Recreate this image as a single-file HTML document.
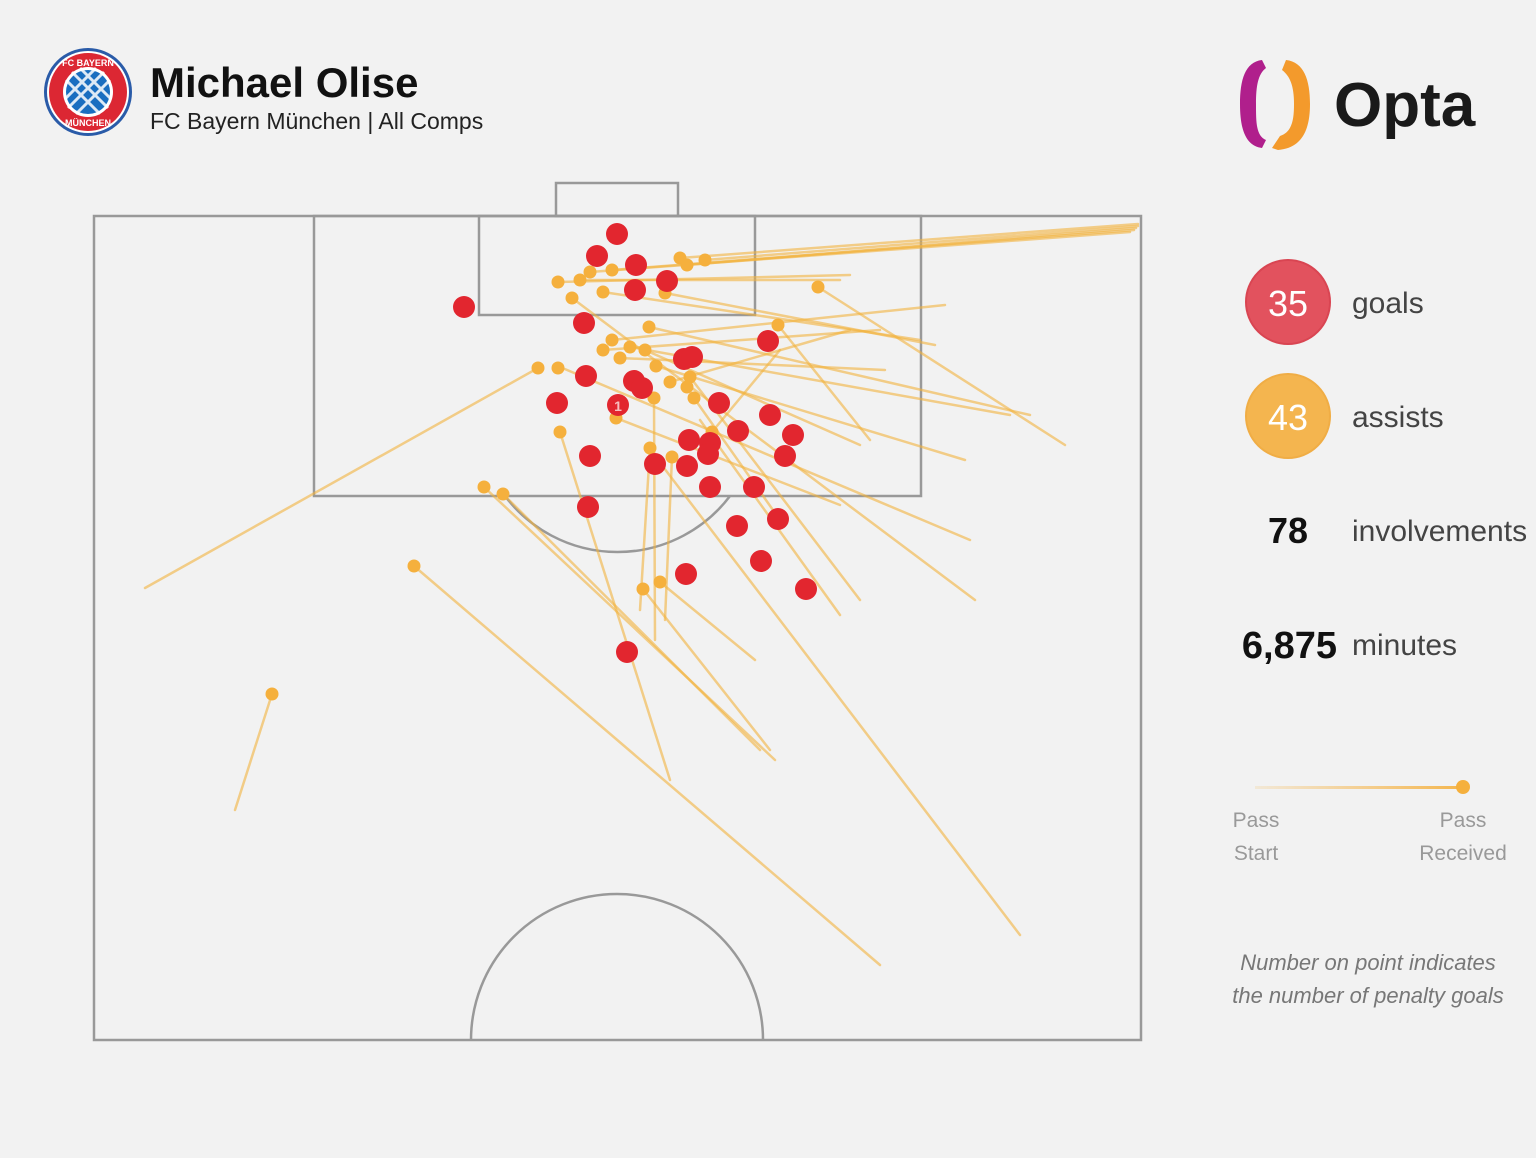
<!DOCTYPE html>
<html><head><meta charset="utf-8"><style>
html,body{margin:0;padding:0;background:#f2f2f2;width:1536px;height:1158px;overflow:hidden;font-family:"Liberation Sans",sans-serif}
</style></head><body>
<svg width="1536" height="1158" viewBox="0 0 1536 1158" xmlns="http://www.w3.org/2000/svg">
<rect width="1536" height="1158" fill="#f2f2f2"/>
<!-- Bayern logo -->
<circle cx="88" cy="92" r="44" fill="#2a5ba8"/>
<circle cx="88" cy="92" r="41" fill="#fff"/>
<circle cx="88" cy="92" r="39" fill="#dc2733"/>
<circle cx="88" cy="92" r="25" fill="#fff"/>
<circle cx="88" cy="92" r="22" fill="#1a6ec0"/>
<g stroke="#fff" stroke-width="3" opacity=".85">
<line x1="66" y1="80" x2="100" y2="114"/><line x1="72" y1="72" x2="108" y2="108"/><line x1="80" y1="68" x2="110" y2="98"/>
<line x1="110" y1="80" x2="76" y2="114"/><line x1="104" y1="72" x2="68" y2="108"/><line x1="96" y1="68" x2="66" y2="98"/>
</g>
<text x="88" y="66" font-size="9" font-weight="bold" fill="#fff" text-anchor="middle">FC BAYERN</text>
<text x="88" y="126" font-size="9" font-weight="bold" fill="#fff" text-anchor="middle">MÜNCHEN</text>
<text x="150" y="97" font-size="42" font-weight="bold" fill="#111">Michael Olise</text>
<text x="150" y="129" font-size="23" fill="#222">FC Bayern München | All Comps</text>
<!-- Opta -->
<path d="M1262 60 C1245 62 1240 80 1240 104 C1240 130 1246 146 1262 148 L1266 140 C1256 136 1256 122 1256 104 C1256 86 1258 74 1266 68 Z" fill="#b01f8c"/>
<path d="M1286 60 C1304 62 1310 80 1310 104 C1310 130 1302 148 1278 150 L1272 148 L1280 136 C1292 132 1294 120 1294 104 C1294 86 1290 76 1282 70 Z" fill="#f39a2c"/>
<text x="1334" y="126" font-size="62" font-weight="bold" fill="#1a1a1a">Opta</text>
<!-- pitch -->
<g fill="none" stroke="#999" stroke-width="2.5">
<rect x="94" y="216" width="1047" height="824"/>
<rect x="314" y="216" width="607" height="280"/>
<rect x="479" y="216" width="276" height="99"/>
<rect x="556" y="183" width="122" height="33"/>
<path d="M505 496 A141 141 0 0 0 730 496"/>
<path d="M471 1040 A146 146 0 0 1 763 1040"/>
</g>
<!-- passes -->
<g stroke="#f2b23e" stroke-width="2.5" stroke-opacity=".6" stroke-linecap="round">
<line x1="1138" y1="224" x2="680" y2="258"/><line x1="1138" y1="226" x2="705" y2="260"/>
<line x1="1136" y1="228" x2="687" y2="265"/><line x1="1134" y1="230" x2="612" y2="270"/>
<line x1="1130" y1="232" x2="590" y2="272"/>
<line x1="850" y1="275" x2="558" y2="282"/><line x1="840" y1="280" x2="580" y2="280"/>
<line x1="1065" y1="445" x2="818" y2="287"/>
<line x1="145" y1="588" x2="538" y2="368"/>
<line x1="235" y1="810" x2="272" y2="694"/>
<line x1="880" y1="965" x2="414" y2="566"/>
<line x1="1020" y1="935" x2="664" y2="468"/>
<line x1="775" y1="760" x2="484" y2="487"/>
<line x1="760" y1="750" x2="503" y2="494"/>
<line x1="670" y1="780" x2="560" y2="432"/>
<line x1="755" y1="660" x2="660" y2="582"/>
<line x1="770" y1="750" x2="643" y2="589"/>
<line x1="970" y1="540" x2="560" y2="367"/>
<line x1="975" y1="600" x2="572" y2="298"/>
<line x1="1030" y1="415" x2="649" y2="327"/>
<line x1="945" y1="305" x2="612" y2="340"/>
<line x1="870" y1="440" x2="778" y2="325"/>
<line x1="885" y1="370" x2="620" y2="358"/>
<line x1="860" y1="600" x2="690" y2="377"/>
<line x1="840" y1="615" x2="700" y2="420"/>
<line x1="965" y1="460" x2="656" y2="366"/>
<line x1="920" y1="340" x2="603" y2="292"/>
<line x1="935" y1="345" x2="665" y2="293"/>
<line x1="880" y1="330" x2="603" y2="350"/>
<line x1="1010" y1="415" x2="630" y2="347"/>
<line x1="840" y1="505" x2="616" y2="418"/>
<line x1="860" y1="445" x2="645" y2="350"/>
<line x1="780" y1="520" x2="694" y2="398"/>
<line x1="850" y1="330" x2="670" y2="382"/>
<line x1="655" y1="640" x2="654" y2="398"/>
<line x1="665" y1="620" x2="672" y2="457"/>
<line x1="640" y1="610" x2="650" y2="448"/>
<line x1="780" y1="350" x2="712" y2="432"/>
</g>
<!-- assist points -->
<g fill="#f5b03d">
<circle cx="558" cy="282" r="6.5"/><circle cx="580" cy="280" r="6.5"/><circle cx="590" cy="272" r="6.5"/><circle cx="612" cy="270" r="6.5"/>
<circle cx="680" cy="258" r="6.5"/><circle cx="705" cy="260" r="6.5"/><circle cx="687" cy="265" r="6.5"/><circle cx="572" cy="298" r="6.5"/>
<circle cx="603" cy="292" r="6.5"/><circle cx="665" cy="293" r="6.5"/><circle cx="649" cy="327" r="6.5"/><circle cx="778" cy="325" r="6.5"/>
<circle cx="818" cy="287" r="6.5"/><circle cx="538" cy="368" r="6.5"/><circle cx="558" cy="368" r="6.5"/><circle cx="612" cy="340" r="6.5"/>
<circle cx="603" cy="350" r="6.5"/><circle cx="630" cy="347" r="6.5"/><circle cx="645" cy="350" r="6.5"/><circle cx="620" cy="358" r="6.5"/>
<circle cx="656" cy="366" r="6.5"/><circle cx="690" cy="377" r="6.5"/><circle cx="670" cy="382" r="6.5"/><circle cx="694" cy="398" r="6.5"/>
<circle cx="654" cy="398" r="6.5"/><circle cx="560" cy="432" r="6.5"/><circle cx="616" cy="418" r="6.5"/><circle cx="712" cy="432" r="6.5"/>
<circle cx="650" cy="448" r="6.5"/><circle cx="672" cy="457" r="6.5"/><circle cx="484" cy="487" r="6.5"/><circle cx="503" cy="494" r="6.5"/>
<circle cx="414" cy="566" r="6.5"/><circle cx="643" cy="589" r="6.5"/><circle cx="660" cy="582" r="6.5"/><circle cx="272" cy="694" r="6.5"/>
<circle cx="706" cy="445" r="6.5"/><circle cx="687" cy="387" r="6.5"/>
</g>
<!-- goals -->
<g fill="#e2262f">
<circle cx="617" cy="234" r="11"/><circle cx="597" cy="256" r="11"/><circle cx="636" cy="265" r="11"/><circle cx="667" cy="281" r="11"/>
<circle cx="635" cy="290" r="11"/><circle cx="464" cy="307" r="11"/><circle cx="584" cy="323" r="11"/><circle cx="768" cy="341" r="11"/>
<circle cx="684" cy="359" r="11"/><circle cx="692" cy="357" r="11"/><circle cx="586" cy="376" r="11"/><circle cx="634" cy="381" r="11"/>
<circle cx="642" cy="388" r="11"/><circle cx="557" cy="403" r="11"/><circle cx="719" cy="403" r="11"/><circle cx="770" cy="415" r="11"/>
<circle cx="738" cy="431" r="11"/><circle cx="793" cy="435" r="11"/><circle cx="689" cy="440" r="11"/><circle cx="710" cy="443" r="11"/>
<circle cx="708" cy="454" r="11"/><circle cx="590" cy="456" r="11"/><circle cx="785" cy="456" r="11"/><circle cx="655" cy="464" r="11"/>
<circle cx="687" cy="466" r="11"/><circle cx="710" cy="487" r="11"/><circle cx="754" cy="487" r="11"/><circle cx="588" cy="507" r="11"/>
<circle cx="737" cy="526" r="11"/><circle cx="778" cy="519" r="11"/><circle cx="761" cy="561" r="11"/><circle cx="686" cy="574" r="11"/>
<circle cx="806" cy="589" r="11"/><circle cx="627" cy="652" r="11"/><circle cx="618" cy="405" r="11"/>
</g>
<text x="618" y="411" font-size="14" font-weight="bold" fill="#f6c0c0" text-anchor="middle">1</text>
<!-- stats -->
<circle cx="1288" cy="302" r="42" fill="#e2525e" stroke="#d94552" stroke-width="2"/>
<text x="1288" y="316" font-size="36" fill="#fff" text-anchor="middle">35</text>
<text x="1352" y="313" font-size="30" fill="#444">goals</text>
<circle cx="1288" cy="416" r="42" fill="#f4b54f" stroke="#f0ad45" stroke-width="2"/>
<text x="1288" y="430" font-size="36" fill="#fff" text-anchor="middle">43</text>
<text x="1352" y="427" font-size="30" fill="#444">assists</text>
<text x="1288" y="543" font-size="36" font-weight="bold" fill="#111" text-anchor="middle">78</text>
<text x="1352" y="541" font-size="30" fill="#444">involvements</text>
<text x="1337" y="658" font-size="38" font-weight="bold" fill="#111" text-anchor="end">6,875</text>
<text x="1352" y="655" font-size="30" fill="#444">minutes</text>
<!-- legend -->
<defs><linearGradient id="lg" x1="0" x2="1"><stop offset="0" stop-color="#f5b03d" stop-opacity=".15"/><stop offset="1" stop-color="#f5b03d" stop-opacity=".9"/></linearGradient></defs>
<rect x="1255" y="786" width="208" height="3" fill="url(#lg)"/>
<circle cx="1463" cy="787" r="7" fill="#f5b03d"/>
<g font-size="21" fill="#999" text-anchor="middle">
<text x="1256" y="827">Pass</text><text x="1256" y="860">Start</text>
<text x="1463" y="827">Pass</text><text x="1463" y="860">Received</text>
</g>
<g font-size="22" font-style="italic" fill="#777" text-anchor="middle">
<text x="1368" y="970">Number on point indicates</text>
<text x="1368" y="1003">the number of penalty goals</text>
</g>
</svg>
</body></html>
